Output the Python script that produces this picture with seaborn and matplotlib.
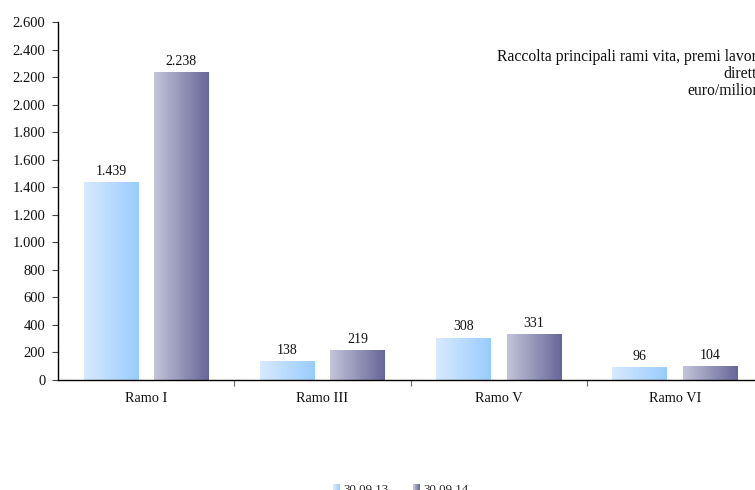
import numpy as np
import pandas as pd
import matplotlib
matplotlib.use("Agg")
import matplotlib.pyplot as plt
import seaborn as sns
from matplotlib.colors import LinearSegmentedColormap, to_rgb
from matplotlib.legend_handler import HandlerBase
from matplotlib.patches import Rectangle

# Data
categories = ["Ramo I", "Ramo III", "Ramo V", "Ramo VI"]
series = ["30.09.13", "30.09.14"]
values_2013 = [1439, 138, 308, 96]
values_2014 = [2238, 219, 331, 104]
y_ticks = list(range(0, 2601, 200))

# Gradient ends (left -> right) for each series
gradients = {
    "30.09.13": ("#d8eafd", "#99ccff"),
    "30.09.14": ("#c4c4da", "#666699"),
}

sns.set_theme(style="white")
plt.rcParams["font.family"] = ["Liberation Serif", "DejaVu Serif"]

df = pd.DataFrame({
    "ramo": categories * 2,
    "periodo": [series[0]] * 4 + [series[1]] * 4,
    "valore": values_2013 + values_2014,
})

W, H = 755, 490
fig = plt.figure(figsize=(W / 100, H / 100), dpi=100)
# plot area runs from x=58 to x=763 px (slightly past the right edge)
ax = fig.add_axes([58 / W, 1 - 380 / H, 705 / W, 358 / H])

palette = {s: gradients[s][1] for s in series}
sns.barplot(data=df, x="ramo", y="valore", hue="periodo", order=categories,
            hue_order=series, palette=palette, width=0.8, gap=0.23,
            errorbar=None, ax=ax, legend=False, saturation=1)


def fmt_it(v):
    return f"{int(v):,}".replace(",", ".")


# Replace flat fills with horizontal gradients, clipped to each bar
for container, s in zip(ax.containers, series):
    cmap = LinearSegmentedColormap.from_list(s, [to_rgb(c) for c in gradients[s]])
    grad = np.linspace(0, 1, 256).reshape(1, -1)
    for bar in container:
        x0, w, h = bar.get_x(), bar.get_width(), bar.get_height()
        img = ax.imshow(grad, cmap=cmap, aspect="auto",
                        extent=(x0, x0 + w, 0, h), zorder=bar.get_zorder(),
                        interpolation="bilinear")
        img.set_clip_path(bar)
        bar.set_facecolor("none")
        bar.set_edgecolor("none")
        ax.text(x0 + w / 2, h + 30, fmt_it(h), ha="center", va="bottom",
                fontsize=10, color="#111111")

ax.set_xlim(-0.5, 3.5)
ax.set_ylim(0, 2600)

# Axes styling
for side in ("top", "right"):
    ax.spines[side].set_visible(False)
ax.spines["left"].set_color("black")
ax.spines["bottom"].set_color("black")
ax.spines["left"].set_linewidth(1.0)
ax.spines["bottom"].set_linewidth(1.0)

ax.set_yticks(y_ticks)
ax.set_yticklabels([fmt_it(t) for t in y_ticks], fontsize=10.5)
ax.tick_params(axis="y", direction="out", length=4, width=0.8, color="#444444",
               pad=5, left=True, labelcolor="#111111")
ax.set_xticks(range(len(categories)))
ax.set_xticklabels(categories, fontsize=10.3)
ax.tick_params(axis="x", length=0, pad=9, bottom=True, labelcolor="#111111")
ax.set_xticks([0.5, 1.5, 2.5], minor=True)
ax.tick_params(axis="x", which="minor", direction="out", length=4, width=0.8,
               color="#666666", bottom=True)
ax.set_xlabel("")
ax.set_ylabel("")
ax.grid(False)

# Title block in the upper right
fig.text(765 / W, 1 - 74 / H,
         "Raccolta principali rami vita, premi lavoro\ndiretto\neuro/milioni",
         ha="right", va="center", fontsize=11.3, linespacing=1.08, color="#111111")


class GradientHandler(HandlerBase):
    def create_artists(self, legend, orig_handle, xdescent, ydescent, width,
                       height, fontsize, trans):
        c0, c1 = np.array(to_rgb(orig_handle[0])), np.array(to_rgb(orig_handle[1]))
        n = 10
        arts = []
        for i in range(n):
            t = i / (n - 1)
            col = c0 * (1 - t) + c1 * t
            r = Rectangle((-xdescent + width * i / n, -ydescent), width / n + 0.1,
                          height, facecolor=col, edgecolor="none", transform=trans)
            arts.append(r)
        return arts


handles = [gradients[s] for s in series]
fig.legend(handles, series, handler_map={tuple: GradientHandler()},
           loc="center", bbox_to_anchor=(401 / W, 1 - 490 / H), ncol=2,
           frameon=False, fontsize=9.3, handlelength=0.55, handleheight=0.85,
           handletextpad=0.25, columnspacing=1.9, borderpad=0)

fig.savefig("out.png", dpi=100)
